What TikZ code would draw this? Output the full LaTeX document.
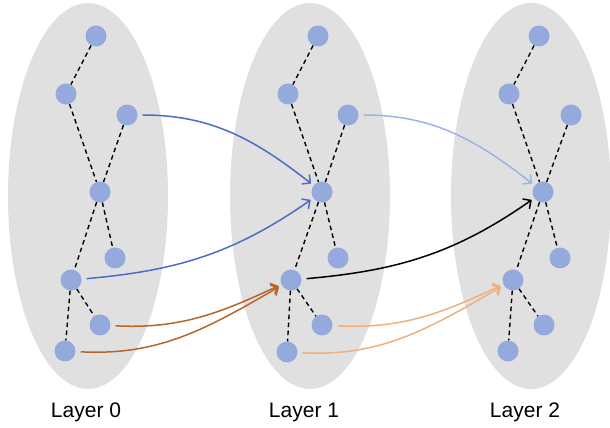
\documentclass[tikz,border=0pt]{standalone}
\usepackage{fontspec}
\setmainfont{Liberation Sans}
\usetikzlibrary{arrows.meta,shapes.geometric}
\definecolor{layerfill}{HTML}{E0E0E0}
\definecolor{nodefill}{HTML}{94A9DC}
\definecolor{cblue}{HTML}{4A6DC6}
\definecolor{clblue}{HTML}{9DB3E6}
\definecolor{cbrown}{HTML}{B8652A}
\definecolor{corange}{HTML}{F0B07D}
\tikzset{
  layer/.style={ellipse, fill=layerfill, minimum width=160pt, minimum height=386pt, inner sep=0pt},
  vert/.style={circle, fill=nodefill, minimum size=21pt, inner sep=0pt},
  link/.style={dashed, dash pattern=on 4.5pt off 3.5pt, line width=1.4pt, black},
  jump/.style={line width=1.5pt, -{Straight Barb[length=6pt,width=12pt]}, shorten <=5pt, shorten >=3pt},
  lbl/.style={font=\fontsize{21}{24}\selectfont, anchor=base}
}
\begin{document}
\begin{tikzpicture}[x=1pt,y=1pt]
\useasboundingbox (0,0) rectangle (610,428);
% layers
\node[layer] (E0) at (88,232) {};
\node[layer] (E1) at (310,232) {};
\node[layer] (E2) at (531,232) {};
% layer 0 nodes
\node[vert] (a1) at (96,392) {};
\node[vert] (a2) at (66,334) {};
\node[vert] (a3) at (127,313) {};
\node[vert] (a4) at (100,236) {};
\node[vert] (a5) at (115,170) {};
\node[vert] (a6) at (71,148) {};
\node[vert] (a7) at (100,103) {};
\node[vert] (a8) at (65,77) {};
% layer 1 nodes
\node[vert] (b1) at (318,392) {};
\node[vert] (b2) at (288,334) {};
\node[vert] (b3) at (348,313) {};
\node[vert] (b4) at (322,236) {};
\node[vert] (b5) at (338,170) {};
\node[vert] (b6) at (291,148) {};
\node[vert] (b7) at (322,103) {};
\node[vert] (b8) at (287,76) {};
% layer 2 nodes
\node[vert] (c1) at (539,392) {};
\node[vert] (c2) at (509,334) {};
\node[vert] (c3) at (571,313) {};
\node[vert] (c4) at (543,236) {};
\node[vert] (c5) at (560,170) {};
\node[vert] (c6) at (513,148) {};
\node[vert] (c7) at (544,103) {};
\node[vert] (c8) at (508,77) {};
% dashed edges
\foreach \p in {a,b,c}{
  \draw[link] (\p1) -- (\p2);
  \draw[link] (\p2) -- (\p4);
  \draw[link] (\p3) -- (\p4);
  \draw[link] (\p4) -- (\p5);
  \draw[link] (\p4) -- (\p6);
  \draw[link] (\p6) -- (\p7);
  \draw[link] (\p6) -- (\p8);
}
% inter-layer arrows
\draw[jump, cblue] (a3) to[out=0, in=142] (b4);
\draw[jump, cblue] (a6) to[out=5, in=215] (b4);
\draw[jump, cbrown] (a7) to[out=-3, in=205] (b6);
\draw[jump, cbrown] (a8) to[out=-3, in=210] (b6);
\draw[jump, clblue] (b3) to[out=0, in=142] (c4);
\draw[jump, black] (b6) to[out=5, in=215] (c4);
\draw[jump, corange] (b7) to[out=-3, in=205] (c6);
\draw[jump, corange] (b8) to[out=-3, in=210] (c6);
% labels
\node[lbl] (L0) at (86,10) {Layer 0};
\node[lbl] (L1) at (304,10) {Layer 1};
\node[lbl] (L2) at (525,10) {Layer 2};
\end{tikzpicture}
\end{document}
